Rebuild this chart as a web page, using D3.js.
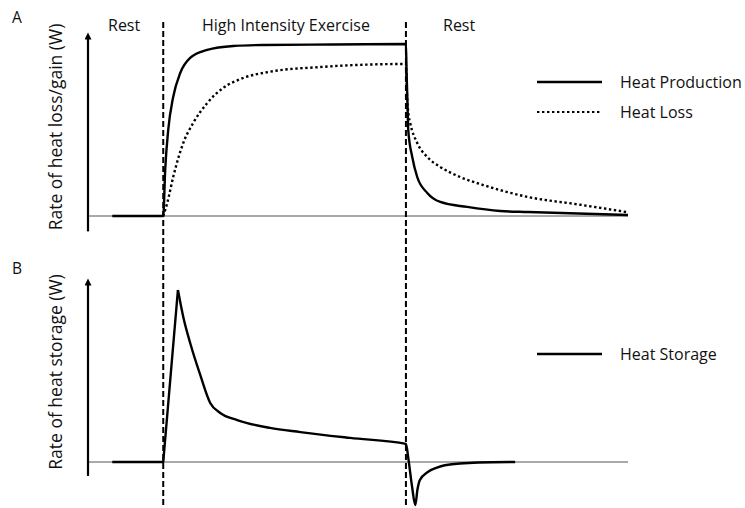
<!DOCTYPE html>
<html>
<head>
<meta charset="utf-8">
<script src="https://cdn.jsdelivr.net/npm/d3@7"></script>
<style>
  body { margin: 0; background: #fff; }
  svg text { font-family: "Open Sans", sans-serif; fill: #111; }
</style>
</head>
<body>
<svg id="chart"></svg>
<script>
// time in minutes, exercise runs from 0 to 20
const phaseLabels = ["Rest", "High Intensity Exercise", "Rest"];
const phaseStarts = [0, 20];

// panel A: [time, rate]
const heatProduction = [
    [-4.2, 0], [0, 0], [0.16, 26.9], [0.41, 50.3], [0.82, 69.6], [1.4, 83.6],
    [2.22, 92.4], [3.63, 97.1], [5.77, 99.4], [8.24, 100], [14, 100.3], [20, 100.6],
    [20.05, 85], [20.12, 68], [20.19, 50.3], [20.52, 34.5], [20.93, 22.8], [21.76, 13.5],
    [22.83, 8.2], [25.05, 5.3], [27.77, 2.9], [30.08, 2.3], [38.3, 0.6]
];
const heatLoss = [
    [0, 0], [0.33, 7.6], [0.82, 22.8], [1.65, 42.7], [2.47, 54.4], [3.63, 66.1],
    [4.94, 74.9], [6.59, 80.7], [8.65, 84.2], [12.9, 87.1], [20, 88.9],
    [20.08, 72], [20.2, 60], [20.35, 54.4], [20.93, 42.7], [21.76, 34.5], [22.83, 28.7],
    [24.47, 22.8], [26.37, 18.1], [28.35, 14.0], [30.08, 11.1], [34.36, 6.6], [38.2, 2.3]
];
// panel B
const heatStorage = [
    [-4.2, 0], [0, 0], [1.21, 100], [1.67, 83.7], [2.22, 69.2], [3.05, 50.6],
    [3.87, 34.3], [4.7, 28.5], [6.1, 24.4], [8.8, 19.8], [11.3, 17.4], [15.4, 14],
    [20, 10.5], [20.2, 2], [20.5, -14], [20.77, -25], [20.95, -16], [21.15, -10.5],
    [21.8, -5.8], [22.5, -3.4], [23.2, -1.9], [25.96, -0.3], [29, 0]
];

const legendA = [
    {name: "Heat Production", dash: null},
    {name: "Heat Loss", dash: "2.4 2.6"}
];
const legendB = [{name: "Heat Storage", dash: null}];

const width = 745, height = 508;
const svg = d3.select("#chart").attr("width", width).attr("height", height);

const defs = svg.append("defs");
defs.append("marker")
    .attr("id", "arrow")
    .attr("viewBox", "0 0 10 10")
    .attr("refX", 2).attr("refY", 5)
    .attr("markerWidth", 8).attr("markerHeight", 7)
    .attr("markerUnits", "userSpaceOnUse")
    .attr("orient", "auto")
    .append("path")
    .attr("d", "M0,0 L10,5 L0,10 Z")
    .attr("fill", "#000");

const x = d3.scaleLinear().domain([-6.2, 38.3]).range([88, 628]);
const yA = d3.scaleLinear().domain([0, 100]).range([216, 45]);
const yB = d3.scaleLinear().domain([0, 100]).range([462, 290]);

function drawPanel(y, yBottom, yTop, label, letter, letterY, labelY) {
    // baseline
    svg.append("line")
        .attr("x1", x(-6.2)).attr("x2", x(38.3))
        .attr("y1", y(0)).attr("y2", y(0))
        .attr("stroke", "#555").attr("stroke-width", 1);
    // y axis arrow
    svg.append("line")
        .attr("x1", x(-6.2)).attr("x2", x(-6.2))
        .attr("y1", y(yBottom)).attr("y2", y(yTop))
        .attr("stroke", "#000").attr("stroke-width", 2.2)
        .attr("marker-end", "url(#arrow)");
    svg.append("text")
        .attr("transform", `translate(62,${labelY}) rotate(-90)`)
        .attr("text-anchor", "middle")
        .style("font-size", "17.5px")
        .text(label);
    svg.append("text")
        .attr("x", 12).attr("y", letterY)
        .style("font-size", "15.5px")
        .text(letter);
}

drawPanel(yA, -9, 104, "Rate of heat loss/gain (W)", "A", 23, 127);
drawPanel(yB, -8.1, 103.5, "Rate of heat storage (W)", "B", 274, 372);

const line = (y) => d3.line()
    .x(d => x(d[0]))
    .y(d => y(d[1]));

svg.append("path")
    .datum(heatLoss)
    .attr("d", line(yA).curve(d3.curveMonotoneX))
    .attr("fill", "none")
    .attr("stroke", "#000")
    .attr("stroke-width", 2.4)
    .attr("stroke-dasharray", "2.4 2.6");

svg.append("path")
    .datum(heatProduction)
    .attr("d", line(yA).curve(d3.curveMonotoneX))
    .attr("fill", "none")
    .attr("stroke", "#000")
    .attr("stroke-width", 2.4);

// heat storage: straight climb to the peak, smooth after it
const peak = 2;
svg.append("path")
    .datum(heatStorage.slice(0, peak + 1))
    .attr("d", line(yB).curve(d3.curveLinear))
    .attr("fill", "none")
    .attr("stroke", "#000")
    .attr("stroke-width", 2.4)
    .attr("stroke-linejoin", "round");
svg.append("path")
    .datum(heatStorage.slice(peak))
    .attr("d", line(yB).curve(d3.curveMonotoneX))
    .attr("fill", "none")
    .attr("stroke", "#000")
    .attr("stroke-width", 2.4);

// phase dividers
svg.selectAll(".divider")
    .data(phaseStarts)
    .join("line")
    .attr("class", "divider")
    .attr("x1", d => x(d)).attr("x2", d => x(d))
    .attr("y1", 22).attr("y2", height)
    .attr("stroke", "#000")
    .attr("stroke-width", 2)
    .attr("stroke-dasharray", "6 3");

// phase labels
const labelX = [108, 202, 443];
svg.selectAll(".phase")
    .data(phaseLabels)
    .join("text")
    .attr("class", "phase")
    .attr("x", (d, i) => labelX[i])
    .attr("y", 31)
    .style("font-size", "16px")
    .text(d => d);

function drawLegend(items, y0) {
    const g = svg.append("g");
    items.forEach((it, i) => {
        const yy = y0 + i * 30;
        g.append("line")
            .attr("x1", 537).attr("x2", 602)
            .attr("y1", yy).attr("y2", yy)
            .attr("stroke", "#000")
            .attr("stroke-width", it.dash ? 2.2 : 2.6)
            .attr("stroke-dasharray", it.dash);
        g.append("text")
            .attr("x", 620).attr("y", yy + 6)
            .style("font-size", "16px")
            .text(it.name);
    });
}
drawLegend(legendA, 82);
drawLegend(legendB, 354);
</script>
</body>
</html>
